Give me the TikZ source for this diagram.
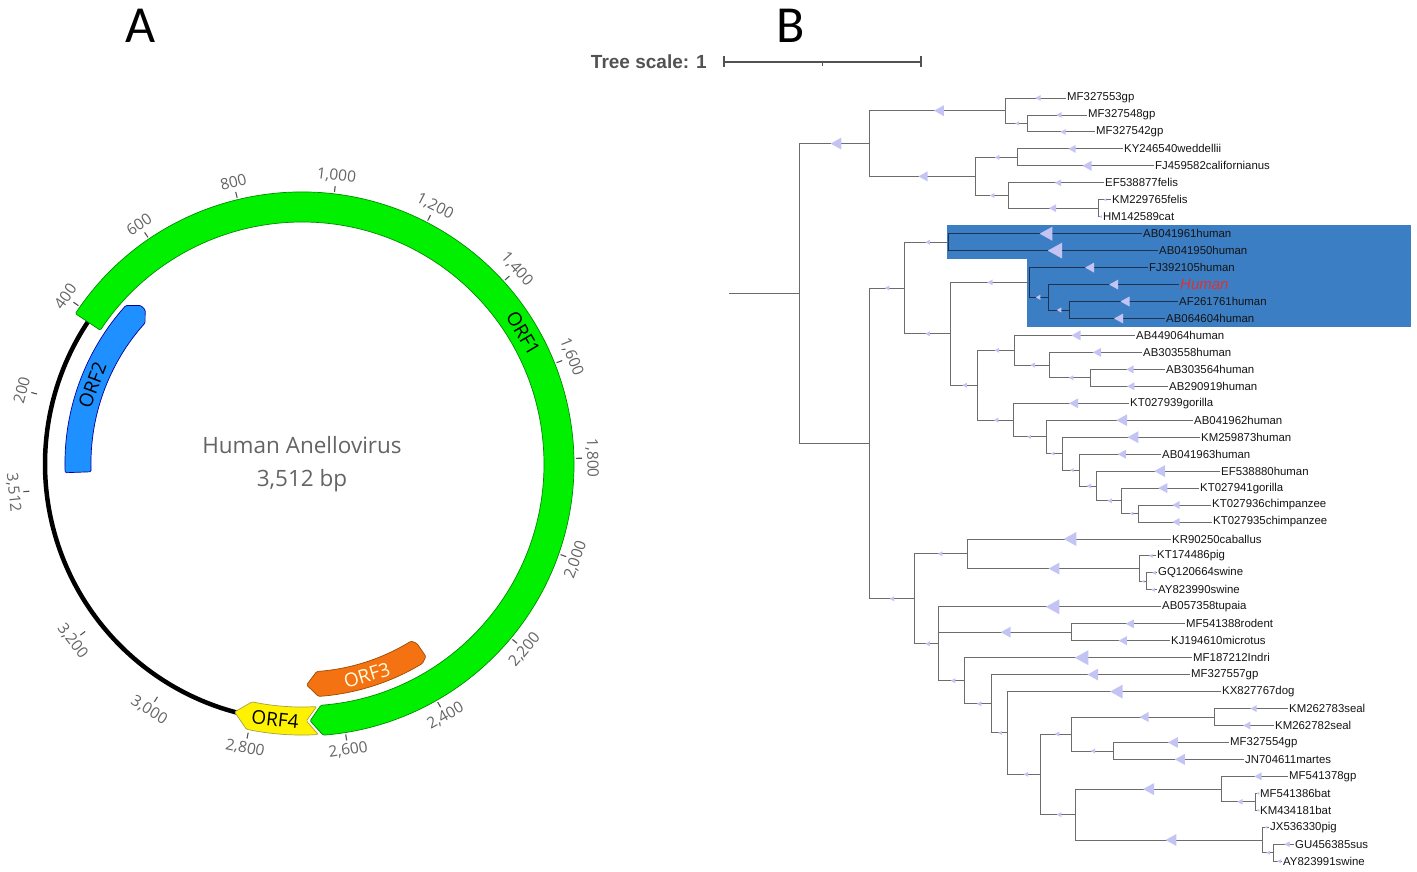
\documentclass[tikz,border=0pt]{standalone}
\usepackage{fontspec}
\setmainfont{Liberation Sans}
\newfontfamily\mapfont{Open Sans}
\newfontfamily\panelfont{Carlito}
\usetikzlibrary{calc}
\definecolor{lav}{RGB}{196,196,244}
\definecolor{hlblue}{RGB}{60,126,196}
\definecolor{brgray}{RGB}{108,108,108}
\definecolor{brdark}{RGB}{30,50,82}
\definecolor{orfgreen}{RGB}{0,240,0}
\definecolor{orfblue}{RGB}{30,144,255}
\definecolor{orforange}{RGB}{244,114,18}
\definecolor{orfyellow}{RGB}{255,242,0}
\definecolor{maptext}{RGB}{100,100,100}

% elbow branch from parent to child with a symbol on it
\newcommand{\branch}[5][br]{%
  \draw[#1] (#2) |- (#3);
  \pic at (#4,0 |- #3) {tri=#5};
}

\begin{document}
\begin{tikzpicture}[x=1pt,y=-1pt,
  declare function={pa(\p)=\p*0.1025057-185.7;},
  br/.style={draw=brgray,line width=0.9pt},
  brhl/.style={draw=brdark,line width=0.9pt},
  leaf/.style={anchor=west,inner sep=1pt,text=black!92,font=\fontsize{11.4}{12}\selectfont},
  pics/tri/.style={code={\fill[lav] (-0.45*#1,0) -- (0.45*#1,-0.5*#1) -- (0.45*#1,0.5*#1) -- cycle;}},
  orf/.style={line width=0.7pt,rounded corners=1.2pt},
  ticklabel/.style={text=maptext,font=\mapfont\fontsize{15.5}{16}\selectfont,inner sep=0pt},
  orflabel/.style={font=\mapfont\fontsize{19}{20}\selectfont,inner sep=0pt},
  panel/.style={font=\panelfont\fontsize{52}{52}\selectfont,inner sep=0pt}]
\useasboundingbox (0,0) rectangle (1417,872);

% panel letters
\node[panel] (lblA) at (141,26) {A};
\node[panel] (lblB) at (791,26) {B};

% ---------- A: genome map ----------
\begin{scope}[shift={(302,464)}]
  \coordinate (c) at (0,0);
  \draw[line width=4.5pt] ({pa(2830)}:257) arc[start angle={pa(2830)},end angle={pa(3898)},radius=257];
  % ORF1
  \filldraw[orf,fill=orfgreen,draw=green!55!black]
    ({pa(383)}:272) arc[start angle={pa(383)},end angle={pa(2646)},radius=272]
    -- ({pa(2672)}:257) -- ({pa(2646)}:242)
    arc[start angle={pa(2646)},end angle={pa(383)},radius=242] -- cycle;
  % ORF4
  \filldraw[orf,fill=orfyellow,draw=yellow!60!black]
    ({pa(2656)}:271) arc[start angle={pa(2656)},end angle={pa(2805)},radius=271]
    -- ({pa(2838)}:257) -- ({pa(2805)}:243)
    arc[start angle={pa(2805)},end angle={pa(2656)},radius=243] -- ({pa(2680)}:257) -- cycle;
  % ORF2
  \filldraw[orf,fill=orfblue,draw=blue!60!black]
    ({pa(35)}:237) arc[start angle={pa(35)},end angle={pa(465)},radius=237]
    -- ({pa(490)}:226) -- ({pa(490)}:220) -- ({pa(465)}:211)
    arc[start angle={pa(465)},end angle={pa(35)},radius=211] -- cycle;
  % ORF3
  \filldraw[orf,fill=orforange,draw=orange!60!black]
    ({pa(2386)}:233) arc[start angle={pa(2386)},end angle={pa(2650)},radius=233]
    -- ({pa(2678)}:221) -- ({pa(2650)}:208)
    arc[start angle={pa(2650)},end angle={pa(2381)},radius=208]
    -- ({pa(2371)}:213) -- ({pa(2370)}:229) -- cycle;

  \node[orflabel,rotate=-59.4] (orf1) at ({pa(1513)}:257) {ORF1};
  \node[orflabel,rotate=69.4] (orf2) at ({pa(257)}:224) {ORF2};
  \node[orflabel,rotate=17.1,text=yellow!12] (orf3) at ({pa(2523)}:221) {ORF3};
  \node[orflabel,rotate=-6] (orf4) at ({pa(2748)}:257) {ORF4};

  \foreach \p/\t in {200/200,400/400,600/600,800/800,1000/{1,000},1200/{1,200},
      1400/{1,400},1600/{1,600},1800/{1,800},2000/{2,000},2200/{2,200},2400/{2,400},
      2600/{2,600},2800/{2,800},3000/{3,000},3200/{3,200},3512/{3,512}} {
    \pgfmathsetmacro\pol{0.1025057*\p-185.7}
    \pgfmathsetmacro\rot{\pol<0 ? -90-\pol : 90-\pol}
    \draw[maptext!80!black,line width=1.1pt] (\pol:274) -- (\pol:280);
    \node[ticklabel,rotate=\rot] (tk\p) at (\pol:290) {\t};
  }

  \node[text=maptext,font=\mapfont\fontsize{22.5}{23}\selectfont] (mapname) at (0,-19) {Human Anellovirus};
  \node[text=maptext,font=\mapfont\fontsize{22.5}{23}\selectfont] (mapsize) at (0,17) {3,512 bp};
\end{scope}

% ---------- B: tree ----------
\node[anchor=east,inner sep=0pt,text=black!68,font=\bfseries\fontsize{19}{20}\selectfont] (tsc) at (707,62) {Tree scale: 1};
\coordinate (sb0) at (724,62);
\coordinate (sb1) at (921,62);
\coordinate (sbm) at (822.5,62);
\draw[black!68,line width=1.3pt] (sb0) -- (sb1);
\draw[black!68,line width=1.3pt] ($(sb0)+(0,-5.5)$) -- ($(sb0)+(0,5.5)$);
\draw[black!68,line width=1.3pt] ($(sb1)+(0,-5.5)$) -- ($(sb1)+(0,5.5)$);
\draw[black!68,line width=1.1pt] (sbm) -- ++(0,4);

\fill[hlblue] (947,225) rectangle (1411,259);
\fill[hlblue] (1027,259) rectangle (1411,327);

\node[leaf] (l1) at (1066,98.0) {MF327553gp};
\node[leaf] (l2) at (1087,115.0) {MF327548gp};
\node[leaf] (l3) at (1095,131.9) {MF327542gp};
\node[leaf] (l4) at (1123,148.9) {KY246540weddellii};
\node[leaf] (l5) at (1154,165.8) {FJ459582californianus};
\node[leaf] (l6) at (1104,182.8) {EF538877felis};
\node[leaf] (l7) at (1111,199.8) {KM229765felis};
\node[leaf] (l8) at (1102,216.7) {HM142589cat};
\node[leaf] (l9) at (1142,233.7) {AB041961human};
\node[leaf] (l10) at (1158,250.6) {AB041950human};
\node[leaf] (l11) at (1148,267.6) {FJ392105human};
\node[leaf,text={rgb,255:red,228;green,48;blue,44},font=\itshape\fontsize{15}{16}\selectfont] (l12) at (1179,284.6) {Human};
\node[leaf] (l13) at (1178,301.5) {AF261761human};
\node[leaf] (l14) at (1165,318.5) {AB064604human};
\node[leaf] (l15) at (1135,335.4) {AB449064human};
\node[leaf] (l16) at (1142,352.4) {AB303558human};
\node[leaf] (l17) at (1165,369.4) {AB303564human};
\node[leaf] (l18) at (1168,386.3) {AB290919human};
\node[leaf] (l19) at (1129,403.3) {KT027939gorilla};
\node[leaf] (l20) at (1193,420.2) {AB041962human};
\node[leaf] (l21) at (1200,437.2) {KM259873human};
\node[leaf] (l22) at (1161,454.2) {AB041963human};
\node[leaf] (l23) at (1220,471.1) {EF538880human};
\node[leaf] (l24) at (1199,488.1) {KT027941gorilla};
\node[leaf] (l25) at (1211,505.0) {KT027936chimpanzee};
\node[leaf] (l26) at (1212,522.0) {KT027935chimpanzee};
\node[leaf] (l27) at (1171,539.0) {KR90250caballus};
\node[leaf] (l28) at (1156,555.9) {KT174486pig};
\node[leaf] (l29) at (1157,572.9) {GQ120664swine};
\node[leaf] (l30) at (1157,589.8) {AY823990swine};
\node[leaf] (l31) at (1161,606.8) {AB057358tupaia};
\node[leaf] (l32) at (1185,623.8) {MF541388rodent};
\node[leaf] (l33) at (1170,640.7) {KJ194610microtus};
\node[leaf] (l34) at (1192,657.7) {MF187212Indri};
\node[leaf] (l35) at (1190,674.6) {MF327557gp};
\node[leaf] (l36) at (1221,691.6) {KX827767dog};
\node[leaf] (l37) at (1288,708.6) {KM262783seal};
\node[leaf] (l38) at (1274,725.5) {KM262782seal};
\node[leaf] (l39) at (1229,742.5) {MF327554gp};
\node[leaf] (l40) at (1244,759.4) {JN704611martes};
\node[leaf] (l41) at (1288,776.4) {MF541378gp};
\node[leaf] (l42) at (1259,793.4) {MF541386bat};
\node[leaf] (l43) at (1259,810.3) {KM434181bat};
\node[leaf] (l44) at (1269,827.3) {JX536330pig};
\node[leaf] (l45) at (1294,844.2) {GU456385sus};
\node[leaf] (l46) at (1282,861.2) {AY823991swine};

% internal nodes
\coordinate (stub) at (729,293.5);
\coordinate (root) at (799,293.5);
\coordinate (A) at (869.5,143.6);
\coordinate (a1) at (1005.7,110.7);
\coordinate (a11) at (1027,123.4);
\coordinate (a2) at (975,176.4);
\coordinate (a21) at (1017,157.4);
\coordinate (a22) at (1008,195.5);
\coordinate (a221) at (1098.6,208.2);
\coordinate (B) at (869.5,443.4);
\coordinate (b1) at (904,288.0);
\coordinate (b11) at (948.6,242.2);
\coordinate (b1b) at (950,333.8);
\coordinate (b12) at (1029,282.4);
\coordinate (b121) at (1048,297.3);
\coordinate (b1211) at (1069.5,310.0);
\coordinate (b1b2) at (977.6,385.2);
\coordinate (b13) at (1014.6,350.3);
\coordinate (b131) at (1049.5,365.1);
\coordinate (b1311) at (1090.5,377.8);
\coordinate (b14) at (1013.7,420.1);
\coordinate (xn) at (1046,436.9);
\coordinate (yn) at (1062,453.6);
\coordinate (zn) at (1079,470.1);
\coordinate (wn) at (1096,486.0);
\coordinate (vn) at (1121.8,500.8);
\coordinate (chimp) at (1138.7,513.5);
\coordinate (b2) at (914,598.8);
\coordinate (b2a) at (967,553.8);
\coordinate (pig) at (1139.6,568.6);
\coordinate (swine) at (1146,581.4);
\coordinate (b2b) at (938.8,643.8);
\coordinate (rod) at (1071,632.2);
\coordinate (ind) at (964.6,680.7);
\coordinate (gp) at (991.4,703.8);
\coordinate (dog) at (1007,732.9);
\coordinate (cb) at (1040.5,774.3);
\coordinate (carn) at (1071,734.0);
\coordinate (seal) at (1214,717.0);
\coordinate (mart) at (1113,751.0);
\coordinate (bs) at (1075,814.6);
\coordinate (batg) at (1221,789.1);
\coordinate (bat) at (1255.7,801.8);
\coordinate (suid) at (1262,840.0);
\coordinate (sus) at (1273.6,852.7);

\draw[br] (stub) -- (root);
\draw[br] (root) |- (B);
\branch{root}{A}{836}{12}
\branch{A}{a1}{939}{11}
\branch{a1}{l1.west}{1038}{6}
\branch{a1}{a11}{1017}{4}
\branch{a11}{l2.west}{1059}{6}
\branch{a11}{l3.west}{1063}{6}
\branch{A}{a2}{923}{10}
\branch{a2}{a21}{997}{5}
\branch{a21}{l4.west}{1072}{8}
\branch{a21}{l5.west}{1087}{10}
\branch{a2}{a22}{992}{5}
\branch{a22}{l6.west}{1058}{7}
\branch{a22}{a221}{1052.6}{8}
\branch{a221}{l7.west}{1105}{3}
\branch{a221}{l8.west}{1100.5}{3}

\branch{B}{b1}{887}{5}
\branch{b1}{b11}{927.6}{5}
\branch[brhl]{b11}{l9.west}{1046}{14}
\branch[brhl]{b11}{l10.west}{1055}{16}
\branch{b1}{b1b}{927.6}{5}
\branch{b1b}{b12}{990}{6}
\branch[brhl]{b12}{l11.west}{1089.6}{10}
\branch[brhl]{b12}{b121}{1038}{5}
\branch[brhl]{b121}{l12.west}{1113.7}{10}
\branch[brhl]{b121}{b1211}{1059}{5}
\branch[brhl]{b1211}{l13.west}{1125}{10}
\branch[brhl]{b1211}{l14.west}{1118.6}{10}
\branch{b1b}{b1b2}{964.6}{5}
\branch{b1b2}{b13}{996.8}{5}
\branch{b13}{l15.west}{1076}{10}
\branch{b13}{b131}{1032.5}{5}
\branch{b131}{l16.west}{1097}{9}
\branch{b131}{b1311}{1071}{5}
\branch{b1311}{l17.west}{1130}{8}
\branch{b1311}{l18.west}{1130.7}{8}
\branch{b1b2}{b14}{996}{5}
\branch{b14}{l19.west}{1073.6}{10}
\branch{b14}{xn}{1029}{4}
\branch{xn}{l20.west}{1121.8}{12}
\branch{xn}{yn}{1052.6}{4}
\branch{yn}{l21.west}{1133}{12}
\branch{yn}{zn}{1071.8}{4}
\branch{zn}{l22.west}{1121.8}{9}
\branch{zn}{wn}{1088.8}{5}
\branch{wn}{l23.west}{1159.7}{12}
\branch{wn}{vn}{1109.7}{5}
\branch{vn}{l24.west}{1162.8}{10}
\branch{vn}{chimp}{1131.6}{4}
\branch{chimp}{l25.west}{1176}{8}
\branch{chimp}{l26.west}{1176}{8}

\branch{B}{b2}{891.9}{5}
\branch{b2}{b2a}{940}{5}
\branch{b2a}{l27.west}{1070}{14}
\branch{b2a}{pig}{1054}{12}
\branch{pig}{l28.west}{1150.8}{4}
\branch{pig}{swine}{1143}{3}
\branch{swine}{l29.west}{1154}{4}
\branch{swine}{l30.west}{1153}{4}
\branch{b2}{b2b}{927.6}{5}
\branch{b2b}{l31.west}{1052.6}{15}
\branch{b2b}{rod}{1005.7}{11}
\branch{rod}{l32.west}{1129.8}{9}
\branch{rod}{l33.west}{1122.7}{9}
\branch{b2b}{ind}{953}{5}
\branch{ind}{l34.west}{1081.6}{15}
\branch{ind}{gp}{979}{5}
\branch{gp}{l35.west}{1092.8}{12}
\branch{gp}{dog}{1000}{4}
\branch{dog}{l36.west}{1116.4}{14}
\branch{dog}{cb}{1025.8}{5}
\branch{cb}{carn}{1057}{5}
\branch{carn}{seal}{1144}{10}
\branch{seal}{l37.west}{1253.5}{7}
\branch{seal}{l38.west}{1246.8}{8}
\branch{carn}{mart}{1092.8}{5}
\branch{mart}{l39.west}{1173}{11}
\branch{mart}{l40.west}{1179.8}{11}
\branch{cb}{bs}{1059}{5}
\branch{bs}{batg}{1148.6}{12}
\branch{batg}{l41.west}{1258}{8}
\branch{batg}{bat}{1240}{6}
\branch{bat}{l42.west}{1258}{3}
\branch{bat}{l43.west}{1258}{3}
\branch{bs}{suid}{1171}{12}
\branch{suid}{l44.west}{1266}{3}
\branch{suid}{sus}{1268}{4}
\branch{sus}{l45.west}{1287}{6}
\branch{sus}{l46.west}{1279}{4}
\end{tikzpicture}
\end{document}
